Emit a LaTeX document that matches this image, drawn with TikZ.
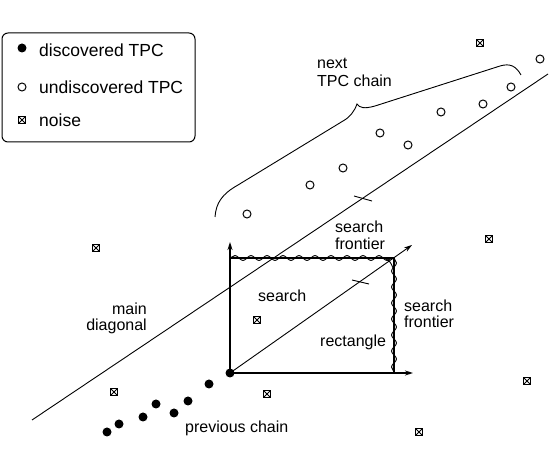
\documentclass[tikz,border=0pt]{standalone}
\usepackage{fontspec}
\setmainfont{Liberation Sans}
\usetikzlibrary{arrows.meta,decorations.pathmorphing}
\begin{document}
\begin{tikzpicture}[x=1pt,y=-1pt,
  lbl/.style={inner sep=0pt,font=\fontsize{16}{18}\selectfont},
  leglbl/.style={inner sep=0pt,font=\fontsize{17.5}{20}\selectfont,anchor=base west},
  fdot/.style={circle,fill=black,inner sep=0pt,minimum size=9pt},
  odot/.style={circle,draw=black,line width=1pt,inner sep=0pt,minimum size=8pt},
  noise/.style={draw=black,line width=0.9pt,inner sep=0pt,minimum size=7pt,
    path picture={\draw[line width=0.8pt] (path picture bounding box.north west) -- (path picture bounding box.south east)
      (path picture bounding box.north east) -- (path picture bounding box.south west);}},
  axis/.style={line width=1.4pt,-{Stealth[length=8pt,width=5pt]}},
  thinline/.style={line width=0.9pt},
  frontier/.style={line width=0.9pt,decorate,decoration={snake,amplitude=2.5pt,segment length=16pt}}
]
\useasboundingbox (0,0) rectangle (550,468);
% legend
\draw[line width=1pt,rounded corners=6pt] (2,33) rectangle (195,142);
\node[fdot] (l1) at (22,48) {};
\node[leglbl] (l1t) at (39,57) {discovered TPC};
\node[odot] (l2) at (22,87) {};
\node[leglbl] (l2t) at (39,94) {undiscovered TPC};
\node[noise] (l3) at (22,120) {};
\node[leglbl] (l3t) at (39,127) {noise};
% main diagonal
\coordinate (d1) at (32,420);
\coordinate (d2) at (548,74);
\draw[thinline] (d1) -- (d2);
% next chain
\foreach \n/\p in {1/{247,214},2/{310,185},3/{343,168},4/{380,133},5/{408,145},6/{441,112},7/{483,104},8/{511,87},9/{540,59}}
  \node[odot] (c\n) at (\p) {};
% brace
\draw[thinline] (215,217) .. controls (216,203) and (222,194) .. (238,185) -- (343,121)
  .. controls (350,117) and (354,112) .. (357,104) .. controls (360,108) and (364,109) .. (375,106)
  -- (500,66) .. controls (510,63) and (516,66) .. (521,75);
% previous chain
\foreach \n/\p in {1/{107,432},2/{119,424},3/{143,417},4/{156,404},5/{174,413},6/{188,401},7/{209,384}}
  \node[fdot] (p\n) at (\p) {};
\node[fdot] (o) at (230,373) {};
% noise
\foreach \n/\p in {1/{480,43},2/{96,248},3/{489,239},4/{257,320},5/{114,392},6/{267,394},7/{527,381},8/{419,432}}
  \node[noise] (n\n) at (\p) {};
% search rectangle
\coordinate (tl) at (230,258);
\coordinate (tr) at (394,258);
\coordinate (br) at (394,373);
\coordinate (ya) at (230,242);
\coordinate (xa) at (413,373);
\coordinate (da) at (412,245);
\draw[line width=1.1pt] (tl) -- (tr) -- (br);
\draw[frontier] (tl) -- (tr);
\draw[frontier] (tr) -- (br);
\draw[thinline] (384,258) .. controls (390,261) .. (393,268);
\draw[axis] (o.center) -- (ya);
\draw[axis] (o.center) -- (xa);
\draw[thinline,-{Stealth[length=8pt,width=5pt]}] (o.center) -- (da);
% ticks
\coordinate (t1a) at (354,196); \coordinate (t1b) at (372,201);
\draw[thinline] (t1a) -- (t1b);
\coordinate (t2a) at (352,280); \coordinate (t2b) at (369,284);
\draw[thinline] (t2a) -- (t2b);
% labels
\node[lbl,anchor=base west] (nx1) at (317,69) {next};
\node[lbl,anchor=base west] (nx2) at (317,87) {TPC chain};
\node[lbl,anchor=base west] (sf1) at (335,233) {search};
\node[lbl,anchor=base west] (sf2) at (335,250) {frontier};
\node[lbl,anchor=base west] (rf1) at (404,312) {search};
\node[lbl,anchor=base west] (rf2) at (404,328) {frontier};
\node[lbl,anchor=base west] (sr1) at (258,302) {search};
\node[lbl,anchor=base west] (sr2) at (320,347) {rectangle};
\node[lbl,anchor=base east] (md1) at (147,315) {main};
\node[lbl,anchor=base east] (md2) at (147,331) {diagonal};
\node[lbl,anchor=base west] (pc) at (185,432) {previous chain};
\end{tikzpicture}
\end{document}
